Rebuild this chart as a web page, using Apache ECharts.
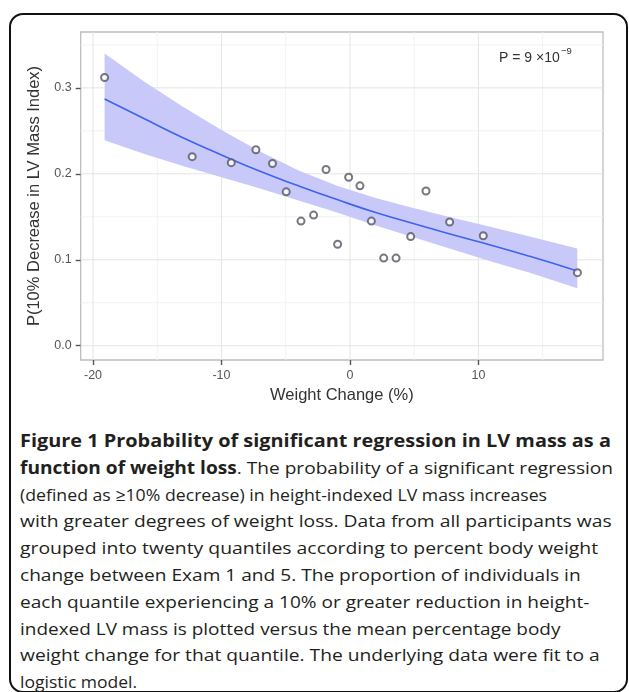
<!DOCTYPE html>
<html>
<head>
<meta charset="utf-8">
<script src="https://cdn.jsdelivr.net/npm/echarts@6/dist/echarts.min.js"></script>
<style>
  html, body { margin: 0; padding: 0; background: #fff; }
  #page { position: relative; width: 629px; height: 692px; overflow: hidden; }
  #frame {
    position: absolute; left: 9px; top: 13px; width: 615px; height: 676px;
    border: 2px solid #111; border-radius: 14px;
  }
  #chart { position: absolute; left: 0; top: 0; width: 629px; height: 420px; }
  #caption {
    position: absolute; left: 20px; top: 428px;
    font-family: "Open Sans", "Noto Sans", sans-serif; font-size: 17px;
    line-height: 26.8px; color: #231f20; white-space: nowrap;
  }
  #caption div { transform-origin: 0 0; }
  #caption b { font-weight: 700; }
</style>
</head>
<body>
<div id="page">
  <div id="frame"></div>
  <div id="chart"></div>
  <div id="caption">
    <div style="transform: scaleX(1.17)"><b>Figure 1 Probability of significant regression in LV mass as a</b></div>
    <div style="transform: scaleX(1.124)"><b>function of weight loss</b>. The probability of a significant regression</div>
    <div style="transform: scaleX(1.04)">(defined as ≥10% decrease) in height-indexed LV mass increases</div>
    <div style="transform: scaleX(1.134)">with greater degrees of weight loss. Data from all participants was</div>
    <div style="transform: scaleX(1.14)">grouped into twenty quantiles according to percent body weight</div>
    <div style="transform: scaleX(1.124)">change between Exam 1 and 5. The proportion of individuals in</div>
    <div style="transform: scaleX(1.12)">each quantile experiencing a 10% or greater reduction in height-</div>
    <div style="transform: scaleX(1.115)">indexed LV mass is plotted versus the mean percentage body</div>
    <div style="transform: scaleX(1.13)">weight change for that quantile. The underlying data were fit to a</div>
    <div style="transform: scaleX(1.03)">logistic model.</div>
  </div>
</div>
<script>
// quantile points (mean weight change %, proportion with >=10% LV mass decrease)
var pointX = [-19.1, -12.28, -9.24, -7.32, -6.03, -4.96, -3.81, -2.83, -1.86, -0.96,
              -0.10, 0.78, 1.67, 2.63, 3.59, 4.73, 5.92, 7.76, 10.38, 17.71];
var pointY = [0.312, 0.220, 0.213, 0.228, 0.212, 0.179, 0.145, 0.152, 0.205, 0.118,
              0.196, 0.186, 0.145, 0.102, 0.102, 0.127, 0.180, 0.144, 0.128, 0.085];

// logistic fit and its confidence band
var fitX     = [-19.1, -16, -13, -10, -7, -4, -1, 2, 5, 8, 11, 14, 17.7];
var fitY     = [0.287, 0.264, 0.242, 0.222, 0.203, 0.186, 0.170, 0.155, 0.142, 0.129, 0.117, 0.104, 0.087];
var bandLow  = [0.239, 0.223, 0.209, 0.196, 0.183, 0.169, 0.155, 0.140, 0.126, 0.112, 0.098, 0.085, 0.067];
var bandHigh = [0.340, 0.307, 0.278, 0.251, 0.226, 0.204, 0.186, 0.172, 0.160, 0.149, 0.138, 0.127, 0.113];

var xTicks = [-20, -10, 0, 10];
var xMinor = [-15, -5, 5, 15];
var yTicks = [0, 0.1, 0.2, 0.3];
var yMinor = [0.05, 0.15, 0.25, 0.35];

var X_MIN = -20.96, X_MAX = 19.7, Y_MIN = -0.0166, Y_MAX = 0.365;

var chart = echarts.init(document.getElementById('chart'));

function zip(a, b) {
  return a.map(function (v, i) { return [v, b[i]]; });
}

// ggplot-style panel grid, then the confidence ribbon on top of it
function renderBand(params, api) {
  if (params.dataIndex !== 0) return null;
  var kids = [];
  function gridLine(p1, p2, color) {
    var a = api.coord(p1), b = api.coord(p2);
    kids.push({
      type: 'line', shape: { x1: a[0], y1: a[1], x2: b[0], y2: b[1] },
      style: { stroke: color, lineWidth: 1 }
    });
  }
  xMinor.forEach(function (v) { gridLine([v, Y_MIN], [v, Y_MAX], '#f2f2f2'); });
  yMinor.forEach(function (v) { gridLine([X_MIN, v], [X_MAX, v], '#f2f2f2'); });
  xTicks.forEach(function (v) { gridLine([v, Y_MIN], [v, Y_MAX], '#e4e4e4'); });
  yTicks.forEach(function (v) { gridLine([X_MIN, v], [X_MAX, v], '#e4e4e4'); });

  var pts = [];
  for (var i = 0; i < fitX.length; i++) pts.push(api.coord([fitX[i], bandHigh[i]]));
  for (var j = fitX.length - 1; j >= 0; j--) pts.push(api.coord([fitX[j], bandLow[j]]));
  kids.push({ type: 'polygon', shape: { points: pts }, style: { fill: '#c9c9f9' } });
  return { type: 'group', children: kids };
}

var font = '"Liberation Sans", Arial, sans-serif';

var option = {
  animation: false,
  grid: {
    left: 80.7, right: 26, top: 32, height: 328,
    show: true, borderColor: '#bdbdbd', borderWidth: 1.3
  },
  xAxis: {
    type: 'value', min: X_MIN, max: X_MAX,
    name: 'Weight Change (%)', nameLocation: 'middle', nameGap: 27,
    nameTextStyle: { fontFamily: font, fontSize: 16.5, color: '#333' },
    axisLine: { show: false, onZero: false },
    splitLine: { show: false },
    axisTick: { customValues: xTicks, length: 5, lineStyle: { color: '#555', width: 1.4 } },
    axisLabel: { customValues: xTicks, fontFamily: font, fontSize: 12.5, color: '#555', margin: 9 }
  },
  yAxis: {
    type: 'value', min: Y_MIN, max: Y_MAX,
    name: 'P(10% Decrease in LV Mass Index)', nameLocation: 'middle', nameGap: 30,
    nameTextStyle: { fontFamily: font, fontSize: 16.5, color: '#333' },
    axisLine: { show: false, onZero: false },
    splitLine: { show: false },
    axisTick: { customValues: yTicks, length: 5, lineStyle: { color: '#555', width: 1.4 } },
    axisLabel: {
      customValues: yTicks, fontFamily: font, fontSize: 12.5, color: '#555', margin: 9,
      formatter: function (v) { return v.toFixed(1); }
    }
  },
  graphic: [
    { type: 'text', z: 100, left: 499, top: 51, style: { text: 'P = 9 ×10', fontFamily: font, fontSize: 14, fill: '#333' } },
    { type: 'text', z: 100, left: 561, top: 46, style: { text: '−9', fontFamily: font, fontSize: 9.5, fill: '#333' } }
  ],
  series: [
    {
      type: 'custom', z: 2, silent: true, clip: true,
      data: [0],
      renderItem: renderBand
    },
    {
      type: 'line', z: 3, data: zip(fitX, fitY), smooth: true, symbol: 'none',
      lineStyle: { color: '#3d63f0', width: 1.6 }
    },
    {
      type: 'scatter', z: 4, data: zip(pointX, pointY), symbol: 'emptyCircle', symbolSize: 7,
      itemStyle: { color: '#555560', borderColor: '#555560', borderWidth: 1.2 }
    }
  ]
};

chart.setOption(option);
</script>
</body>
</html>
